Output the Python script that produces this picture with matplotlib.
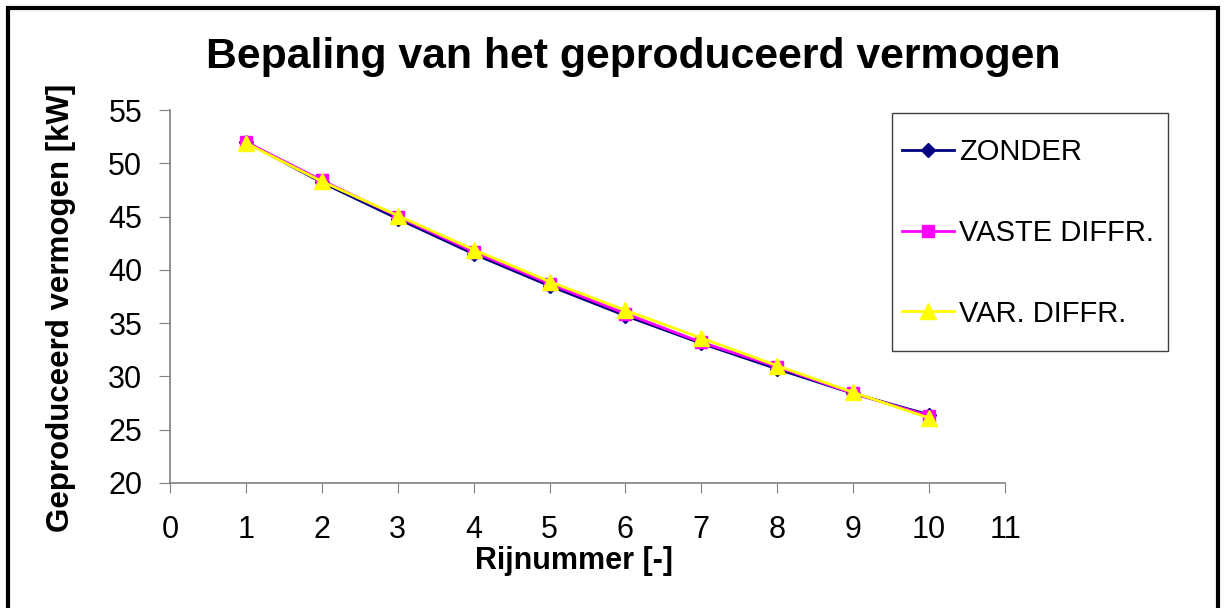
import matplotlib
matplotlib.use("Agg")
import matplotlib.pyplot as plt
from matplotlib.patches import Rectangle

plt.rcParams['font.family'] = ['Liberation Sans', 'DejaVu Sans']

rij = [1, 2, 3, 4, 5, 6, 7, 8, 9, 10]
zonder = [52.0, 48.2, 44.8, 41.5, 38.5, 35.7, 33.1, 30.7, 28.4, 26.4]
vaste = [52.0, 48.4, 45.0, 41.7, 38.7, 35.9, 33.2, 30.9, 28.4, 26.3]
var_diffr = [51.9, 48.3, 45.1, 41.9, 38.9, 36.2, 33.6, 31.0, 28.5, 26.1]
labels = ["ZONDER", "VASTE DIFFR.", "VAR. DIFFR."]
title = "Bepaling van het geproduceerd vermogen"
xlabel = "Rijnummer [-]"
ylabel = "Geproduceerd vermogen [kW]"

W, H = 1225, 608
fig = plt.figure(figsize=(W / 100, H / 100), dpi=100)
ax = fig.add_axes([170 / W, 1 - 483 / H, (1005 - 170) / W, (483 - 110) / H])

ax.plot(rij, zonder, color='#000080', marker='D', markersize=7, lw=2.0, label=labels[0])
ax.plot(rij, vaste, color='#FF00FF', marker='s', markersize=9, lw=2.0, label=labels[1])
ax.plot(rij, var_diffr, color='#FFFF00', marker='^', markersize=11, lw=2.0, label=labels[2])

ax.set_xlim(0, 11)
ax.set_ylim(20, 55)
ax.set_xticks(range(0, 12))
ax.set_yticks(range(20, 56, 5))
for s in ['top', 'right']:
    ax.spines[s].set_visible(False)
for s in ['left', 'bottom']:
    ax.spines[s].set_color('#808080')
    ax.spines[s].set_linewidth(1.2)
ax.tick_params(axis='y', direction='out', length=8, color='#808080', labelsize=22, pad=12)
ax.tick_params(axis='x', direction='out', length=7, color='#808080', labelsize=22, pad=16)

ax.set_xlabel(xlabel, fontsize=22, fontweight='bold')
ax.xaxis.set_label_coords(0.484, -0.17)
ax.set_ylabel(ylabel, fontsize=22.5, fontweight='bold')
ax.yaxis.set_label_coords(-0.113, 0.47)
fig.text(633 / W, 1 - 57 / H, title, fontsize=30.8, fontweight='bold', ha='center', va='center')

# legend frame (drawn as a box) and entries
lx0, lx1, ly0, ly1 = 892, 1168, 113, 351
fig.patches.append(Rectangle((lx0 / W, 1 - ly1 / H), (lx1 - lx0) / W, (ly1 - ly0) / H,
                             transform=fig.transFigure, fill=True, facecolor='white',
                             edgecolor='#404040', lw=1.0, zorder=3))
leg = fig.legend(*ax.get_legend_handles_labels(), loc='center left',
                 bbox_to_anchor=(902 / W, 1 - ((ly0 + ly1) / 2 + 1) / H),
                 fontsize=21, frameon=False, borderpad=0, labelspacing=1.8,
                 handlelength=1.8, handletextpad=0.15, borderaxespad=0)
leg.set_zorder(4)

fig.patches.append(Rectangle((8 / W, -0.05), (1218 - 8) / W, 1.05 - 8 / H,
                             transform=fig.transFigure, fill=False, edgecolor='black', lw=3,
                             clip_on=False))

fig.savefig("out.png", dpi=100)
